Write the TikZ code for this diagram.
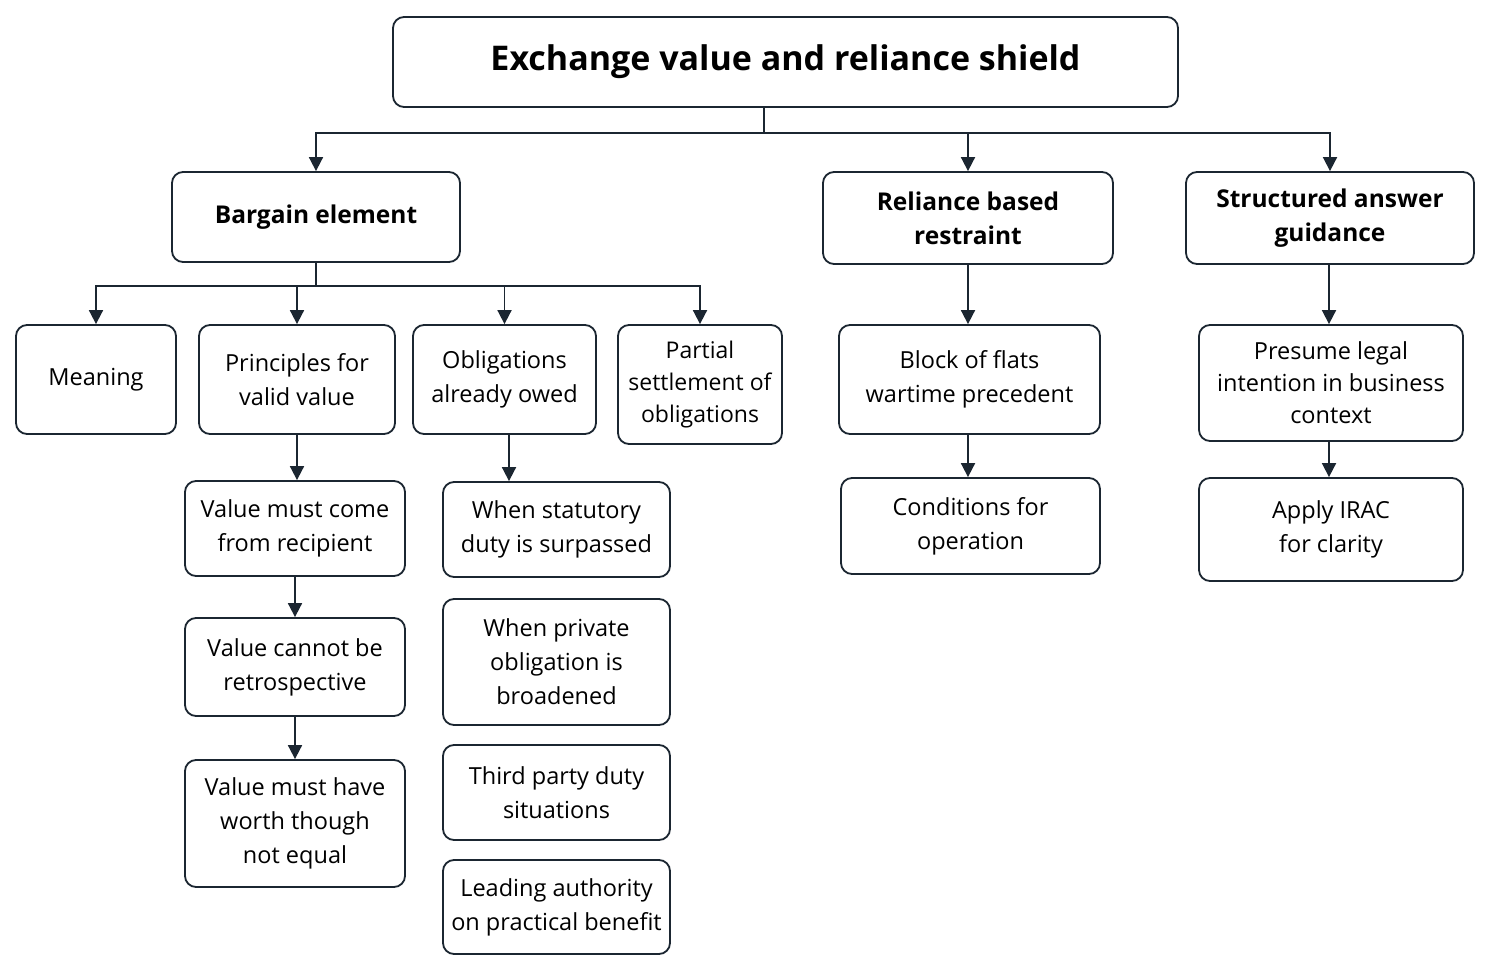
\documentclass[tikz,border=0pt]{standalone}
\usepackage{fontspec}
\setmainfont{Open Sans}
\usetikzlibrary{arrows.meta}
\definecolor{linec}{HTML}{1B2631}
\tikzset{
  box/.style={draw=linec, line width=1.8pt, rounded corners=11pt, align=center, inner sep=0pt, fill=white, text=black,
    font=\fontsize{23.5}{34}\selectfont},
  head/.style={box, font=\fontsize{24.5}{34}\selectfont\bfseries},
  arr/.style={draw=linec, line width=1.8pt, -{Triangle[length=14pt,width=14pt]}},
  ln/.style={draw=linec, line width=1.8pt},
}
\begin{document}
\begin{tikzpicture}[x=1pt,y=-1pt]
\useasboundingbox[fill=white] (0,0) rectangle (1493,973);
% title
\node[box, font=\fontsize{34}{40}\selectfont\bfseries, minimum width=785pt, minimum height=90pt] (title) at (785.5,62) {Exchange value and reliance shield};
% level 1
\node[head, minimum width=288pt, minimum height=90pt] (bargain) at (316,217) {Bargain element};
\node[head, minimum width=290pt, minimum height=92pt] (reliance) at (968,218) {Reliance based\\restraint};
\node[head, minimum width=288pt, minimum height=92pt] (struct) at (1330,218) {Structured answer\\guidance};
% level 2
\node[box, minimum width=160pt, minimum height=109pt] (meaning) at (96,379.5) {Meaning};
\node[box, minimum width=196pt, minimum height=109pt] (princ) at (297,379.5) {Principles for\\valid value};
\node[box, minimum width=183pt, minimum height=109pt] (oblig) at (504.5,379.5) {Obligations\\already owed};
\node[box, minimum width=164pt, minimum height=119pt, font=\fontsize{23}{32}\selectfont] (partial) at (700,384.5) {Partial\\settlement of\\obligations};
\node[box, minimum width=261pt, minimum height=109pt] (block) at (969.5,379.5) {Block of flats\\wartime precedent};
\node[box, minimum width=264pt, minimum height=116pt, font=\fontsize{23.5}{32}\selectfont] (presume) at (1331,383) {Presume legal\\intention in business\\context};
% level 3
\node[box, minimum width=220pt, minimum height=95pt] (v1) at (295,528.5) {Value must come\\from recipient};
\node[box, minimum width=220pt, minimum height=98pt] (v2) at (295,667) {Value cannot be\\retrospective};
\node[box, minimum width=220pt, minimum height=127pt] (v3) at (295,823.5) {Value must have\\worth though\\not equal};
\node[box, minimum width=227pt, minimum height=95pt] (o1) at (556.5,529.5) {When statutory\\duty is surpassed};
\node[box, minimum width=227pt, minimum height=126pt] (o2) at (556.5,662) {When private\\obligation is\\broadened};
\node[box, minimum width=227pt, minimum height=95pt] (o3) at (556.5,792.5) {Third party duty\\situations};
\node[box, minimum width=227pt, minimum height=94pt] (o4) at (556.5,907) {Leading authority\\on practical benefit};
\node[box, minimum width=259pt, minimum height=96pt] (cond) at (970.5,526) {Conditions for\\operation};
\node[box, minimum width=264pt, minimum height=103pt] (irac) at (1331,529.5) {Apply IRAC\\for clarity};
% connectors: title
\coordinate (tb) at (764,133);
\draw[ln] (title.south -| tb) -- (tb);
\draw[arr] (tb) -| (bargain.north);
\draw[arr] (tb) -| (reliance.north);
\draw[arr] (tb) -| (struct.north);
% bargain
\coordinate (bb) at (316,286);
\draw[ln] (bargain.south) -- (bb);
\draw[arr] (bb) -| (meaning.north);
\draw[arr] (bb) -| (princ.north);
\draw[arr] (bb) -| (oblig.north);
\draw[arr] (bb) -| (partial.north);
% chains
\draw[arr] (princ.south) -- (v1.north -| princ.south);
\draw[arr] (v1.south) -- (v2.north);
\draw[arr] (v2.south) -- (v3.north);
\draw[arr] (oblig.south -| 509,0) -- (o1.north -| 509,0);
\draw[arr] (reliance.south) -- (block.north -| reliance.south);
\draw[arr] (block.south -| 968,0) -- (cond.north -| 968,0);
\draw[arr] (struct.south -| 1329,0) -- (presume.north -| 1329,0);
\draw[arr] (presume.south -| 1329,0) -- (irac.north -| 1329,0);
\end{tikzpicture}
\end{document}
